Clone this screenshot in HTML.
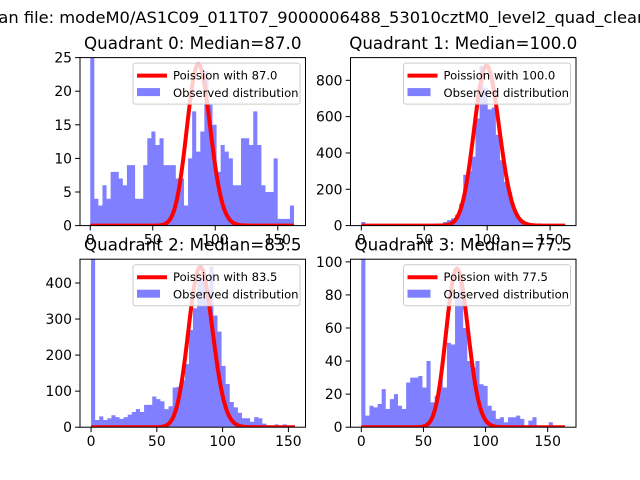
<!DOCTYPE html>
<html><head><meta charset="utf-8"><style>
html,body{margin:0;padding:0;background:#fff;}
svg{display:block;font-family:"DejaVu Sans","Liberation Sans",sans-serif;}
</style></head><body>
<svg id="fig" width="640" height="480" viewBox="0 0 640 480" xmlns="http://www.w3.org/2000/svg">
<rect width="640" height="480" fill="#fff"/>
<text x="319" y="23" font-size="16.3" text-anchor="middle" fill="#000">Median file: modeM0/AS1C09_011T07_9000006488_53010cztM0_level2_quad_clean.evt</text>
</svg>
<script>
// ---- data ----
const quadrantNames = ["Quadrant 0: Median=87.0","Quadrant 1: Median=100.0","Quadrant 2: Median=83.5","Quadrant 3: Median=77.5"];
const medians = [87.0, 100.0, 83.5, 77.5];
const poissonPeaks = [24, 880, 445, 96];
const binMax = [163, 162, 155, 164];
const xMin = [-8.2, -8.6, -8.4, -8.7];
const xMax = [172.2, 170.6, 163.0, 172.8];
const yMax = [25, 925, 466, 101.6];
const yTicks0 = [0,5,10,15,20,25];
const yTicks1 = [0,200,400,600,800];
const yTicks2 = [0,100,200,300,400];
const yTicks3 = [0,20,40,60,80,100];
const xTicks = [0,50,100,150];
const counts0 = [25,4,3,6,4,8,8,7,6,9,9,4,4,9,13,14,12,13,9,9,9,7,7,3,10,17,11,14,23,18,15,8,12,11,10,6,6,13,13,12,17,12,6,5,5,10,1,1,1,3];
const counts1 = [20,2,2,2,2,2,2,2,2,2,3,3,3,3,4,5,6,8,10,10,20,30,40,60,120,280,300,380,590,880,760,640,650,500,360,240,185,90,45,30,20,10,5,3,2,1,1,0,0,0];
const counts2 = [470,20,30,20,25,33,28,23,28,35,42,50,42,62,62,85,78,72,50,58,110,112,130,175,270,330,410,440,380,445,310,265,170,120,70,55,40,25,25,15,28,25,10,5,3,8,3,8,2,0];
const counts3 = [102,7,13,12,14,23,11,17,20,13,11,27,30,30,31,24,40,15,19,29,24,51,50,80,88,60,40,36,40,26,25,13,10,5,6,3,6,6,7,5,0,4,6,0,0,0,3,0,0,0];

const allCounts=[counts0,counts1,counts2,counts3];
const allYTicks=[yTicks0,yTicks1,yTicks2,yTicks3];
const svg=document.getElementById('fig');
const NS='http://www.w3.org/2000/svg';
function mk(tag,attrs,parent){const e=document.createElementNS(NS,tag);for(const k in attrs)e.setAttribute(k,attrs[k]);(parent||svg).appendChild(e);return e;}
function lnGamma(z){const g=7,c=[0.99999999999980993,676.5203681218851,-1259.1392167224028,771.32342877765313,-176.61502916214059,12.507343278686905,-0.13857109526572012,9.9843695780195716e-6,1.5056327351493116e-7];z-=1;let x=c[0];for(let i=1;i<g+2;i++)x+=c[i]/(z+i);const t=z+g+0.5;return 0.5*Math.log(2*Math.PI)+(z+0.5)*Math.log(t)-t+Math.log(x);}
function pois(k,l){return Math.exp(k*Math.log(l)-l-lnGamma(k+1));}

const AX=[[80,57.6],[350.5,57.6],[80,259.2],[350.5,259.2]];
const AW=225.5, AH=168;
for(let q=0;q<4;q++){
  const [L,T]=AX[q];
  const g=mk('g',{});
  
  
  const sx=v=>L+(v-xMin[q])/(xMax[q]-xMin[q])*AW;
  const sy=v=>T+AH-v/yMax[q]*AH;
  const cp=mk('clipPath',{id:'clip'+q},g);
  mk('rect',{x:L,y:T,width:AW,height:AH},cp);
  const plot=mk('g',{'clip-path':'url(#clip'+q+')'},g);
  const counts=allCounts[q];const n=counts.length;const bw=binMax[q]/n;
  let hd='M'+sx(0).toFixed(2)+','+sy(0).toFixed(2);
  for(let i=0;i<n;i++){
    const x0=sx(i*bw),x1=sx((i+1)*bw),y=sy(counts[i]);
    hd+='L'+x0.toFixed(2)+','+y.toFixed(2)+'L'+x1.toFixed(2)+','+y.toFixed(2);
  }
  hd+='L'+sx(n*bw).toFixed(2)+','+sy(0).toFixed(2)+'Z';
  const hp=mk('path',{d:hd,fill:'#0000ff','fill-opacity':0.5},plot);
  
  
  const pk=pois(Math.floor(medians[q]),medians[q]);
  let d='';
  for(let k=0;k<=Math.floor(binMax[q]);k++){
    const v=pois(k,medians[q])/pk*poissonPeaks[q];
    d+=(k?'L':'M')+sx(k).toFixed(2)+','+sy(v).toFixed(2);
  }
  const pl=mk('path',{d:d,fill:'none',stroke:'#ff0000','stroke-width':4,'stroke-linejoin':'round'},plot);
  
  
  const sp=mk('rect',{x:L,y:T,width:AW,height:AH,fill:'none',stroke:'#000','stroke-width':1},g);
  
  
  xTicks.forEach(t=>{
    const x=sx(t);
    mk('line',{x1:x,y1:T+AH,x2:x,y2:T+AH+4.9,stroke:'#000','stroke-width':1},g);
    const tx=mk('text',{x:x,y:T+AH+19,'font-size':13.9,'text-anchor':'middle'},g);
    tx.textContent=t;
    
    
  });
  allYTicks[q].forEach(t=>{
    const y=sy(t);
    mk('line',{x1:L,y1:y,x2:L-4.9,y2:y,stroke:'#000','stroke-width':1},g);
    const ty=mk('text',{x:L-8,y:y+5,'font-size':13.9,'text-anchor':'end'},g);
    ty.textContent=t;
    
    
  });
  const tt=mk('text',{x:L+AW/2,y:T-8.5,'font-size':16.7,'text-anchor':'middle'},g);
  tt.textContent=quadrantNames[q];
  
  
  const lw=167,lh=41,lx=L+AW-5.5-lw,ly=T+5.5;
  const lg=mk('g',{},g);
  
  
  mk('rect',{x:lx,y:ly,width:lw,height:lh,rx:2.5,fill:'#fff','fill-opacity':0.8,stroke:'#cccccc','stroke-width':1},lg);
  mk('line',{x1:lx+4,y1:ly+12.5,x2:lx+34,y2:ly+12.5,stroke:'#ff0000','stroke-width':4},lg);
  const t1=mk('text',{x:lx+40,y:ly+16.5,'font-size':11.6},lg);
  t1.textContent='Poission with '+medians[q].toFixed(1);
  
  
  mk('rect',{x:lx+4,y:ly+25,width:23,height:8,fill:'#0000ff','fill-opacity':0.5},lg);
  const t2=mk('text',{x:lx+40,y:ly+34,'font-size':11.6},lg);
  t2.textContent='Observed distribution';
  
  
}
</script>
</body></html>
